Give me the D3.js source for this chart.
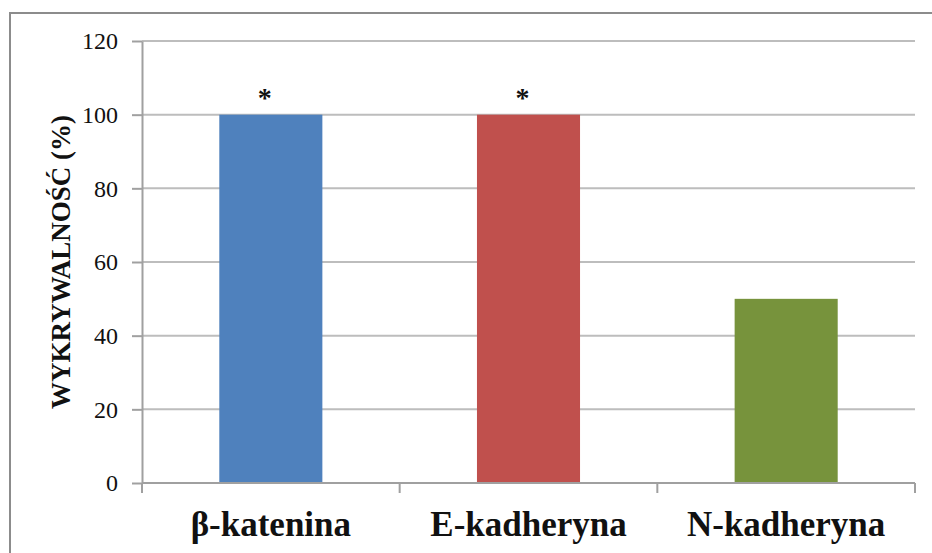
<!DOCTYPE html>
<html>
<head>
<meta charset="utf-8">
<script src="https://cdn.jsdelivr.net/npm/d3@7"></script>
<style>
  html, body { margin: 0; padding: 0; background: #fff; }
  svg { display: block; }
  svg text { font-family: "Liberation Serif", "Times New Roman", serif; fill: #111; }
  .cat, .ytitle, .mark { font-weight: bold; }
</style>
</head>
<body>
<svg id="chart" width="932" height="553"></svg>
<script>
// Detection rate of each marker
const categories = ["β-katenina", "E-kadheryna", "N-kadheryna"];
const values = [100, 100, 50];
const markers = ["*", "*", ""];
const colors = ["#4F81BD", "#C0504D", "#77933C"];
const yTicks = [0, 20, 40, 60, 80, 100, 120];
const yTitle = "WYKRYWALNOŚĆ (%)";

(function draw() {
  const svg = d3.select("#chart");
  const W = 932, H = 553;
  const plotL = 142, plotR = 915, plotT = 41, plotB = 483;

  // outer frame (right and bottom edges run off the page)
  svg.append("rect")
    .attr("x", 10).attr("y", 13)
    .attr("width", W + 20).attr("height", H + 20)
    .attr("fill", "#fff")
    .attr("stroke", "#8c8c8c").attr("stroke-width", 2);

  const x = d3.scaleBand().domain(categories).range([plotL, plotR])
    .paddingInner(0.6).paddingOuter(0.3);
  const xGroups = d3.scaleBand().domain(categories).range([plotL, plotR]);
  const y = d3.scaleLinear().domain([0, 120]).range([plotB, plotT]);

  // horizontal gridlines
  svg.append("g").selectAll("line").data(yTicks.filter(t => t > 0)).join("line")
    .attr("x1", plotL).attr("x2", plotR)
    .attr("y1", d => y(d)).attr("y2", d => y(d))
    .attr("stroke", "#bdbdbd").attr("stroke-width", 2);

  // y axis
  const yAxis = svg.append("g").attr("transform", `translate(${plotL},0)`)
    .call(d3.axisLeft(y).tickValues(yTicks).tickSize(10).tickPadding(14).tickSizeOuter(0));
  yAxis.attr("font-family", null).attr("font-size", null);
  yAxis.select(".domain").attr("stroke", "#a0a0a0").attr("stroke-width", 2);
  yAxis.selectAll(".tick line").attr("stroke", "#a0a0a0").attr("stroke-width", 2);
  yAxis.selectAll(".tick text").attr("fill", null).style("font-size", "24px");

  // bars
  svg.append("g").selectAll("rect").data(categories).join("rect")
    .attr("x", d => x(d))
    .attr("width", x.bandwidth())
    .attr("y", (d, i) => y(values[i]))
    .attr("height", (d, i) => y(0) - y(values[i]))
    .attr("fill", (d, i) => colors[i]);

  // x axis with ticks between categories
  const xAxis = svg.append("g").attr("transform", `translate(0,${plotB})`);
  xAxis.append("line").attr("x1", plotL).attr("x2", plotR)
    .attr("stroke", "#a0a0a0").attr("stroke-width", 2);
  const bounds = categories.map(c => xGroups(c)).concat([plotR]);
  xAxis.selectAll("line.tk").data(bounds).join("line").attr("class", "tk")
    .attr("x1", d => d).attr("x2", d => d).attr("y1", 0).attr("y2", 10)
    .attr("stroke", "#a0a0a0").attr("stroke-width", 2);

  // category labels
  svg.append("g").selectAll("text").data(categories).join("text")
    .attr("class", "cat")
    .attr("x", d => xGroups(d) + xGroups.bandwidth() / 2)
    .attr("y", 536)
    .attr("text-anchor", "middle")
    .style("font-size", "35px")
    .text(d => d);

  // significance markers
  svg.append("g").selectAll("text").data(categories).join("text")
    .attr("class", "mark")
    .attr("x", d => x(d) + x.bandwidth() / 2 - 6)
    .attr("y", (d, i) => y(values[i]) - 8)
    .attr("text-anchor", "middle")
    .style("font-size", "28px")
    .text((d, i) => markers[i]);

  // y title
  svg.append("text")
    .attr("class", "ytitle")
    .attr("transform", `translate(70,${(plotT + plotB) / 2}) rotate(-90)`)
    .attr("text-anchor", "middle")
    .style("font-size", "27px")
    .text(yTitle);
})();
</script>
</body>
</html>
